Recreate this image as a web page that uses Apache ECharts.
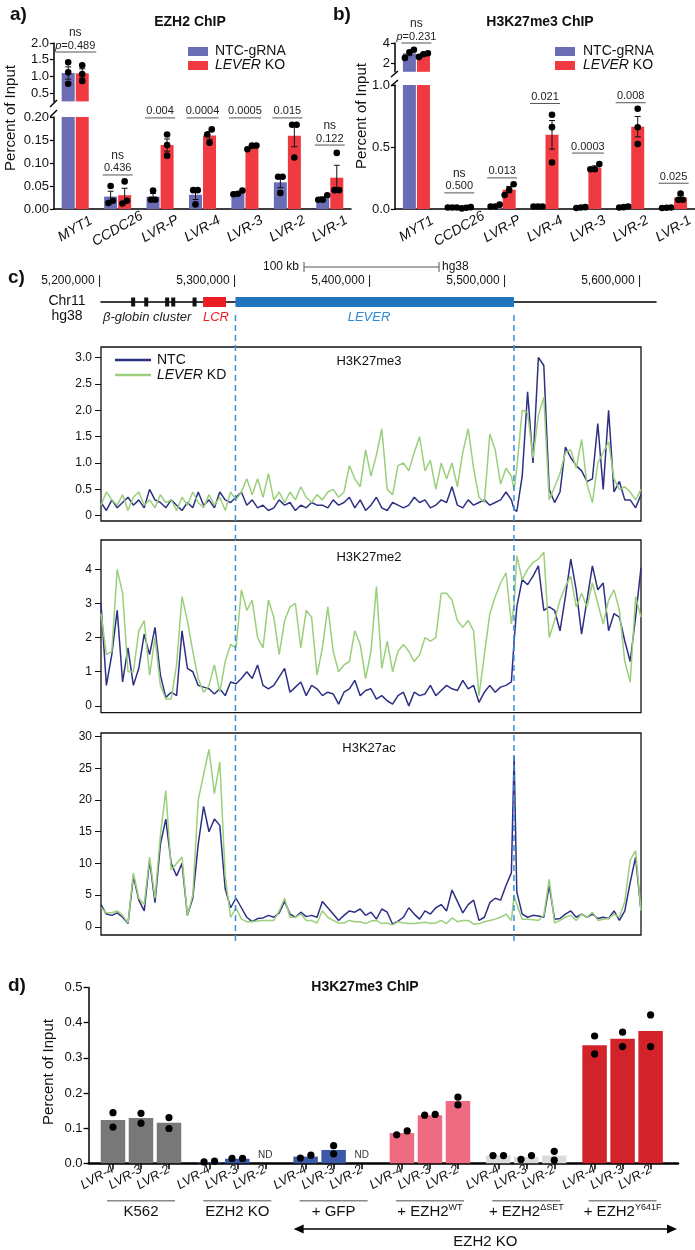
<!DOCTYPE html>
<html><head><meta charset="utf-8">
<script src="https://cdn.jsdelivr.net/npm/echarts@6/dist/echarts.min.js"></script>
<style>html,body{margin:0;padding:0;background:#fff}#c{width:695px;height:1250px}</style>
</head><body><div id="c"></div><script>
// ================= DATA =================
// Panels a & b (shared categories)
const abCategories = ['MYT1','CCDC26','LVR-P','LVR-4','LVR-3','LVR-2','LVR-1'];
// a) EZH2 ChIP
const aNtcMean = [1.10, 0.027, 0.027, 0.031, 0.035, 0.058, 0.023];
const aKoMean  = [1.09, 0.030, 0.139, 0.160, 0.135, 0.159, 0.068];
const aNtcReps = [[1.42,1.12,0.78],[0.050,0.018,0.013],[0.040,0.020,0.020],[0.041,0.041,0.010],[0.040,0.033,0.032],[0.070,0.070,0.035],[0.030,0.020,0.020]];
const aKoReps  = [[1.33,1.07,0.86],[0.060,0.012,0.018],[0.162,0.139,0.116],[0.173,0.162,0.144],[0.138,0.138,0.130],[0.183,0.183,0.112],[0.122,0.041,0.041]];
const aPValues = ['0.489','0.436','0.004','0.0004','0.0005','0.015','0.122'];
const aNs = [true,true,false,false,false,false,true];
const aUpperTicks = [0.5,1.0,1.5,2.0];
const aLowerTicks = [0,0.05,0.10,0.15,0.20];
// b) H3K27me3 ChIP
const bNtcMean = [3.00, 0.012, 0.025, 0.020, 0.012, 0.016, 0.010];
const bKoMean  = [2.85, 0.010, 0.156, 0.598, 0.334, 0.664, 0.092];
const bNtcReps = [[3.35,3.10,2.55],[0.012,0.012,0.012],[0.020,0.035,0.020],[0.020,0.020,0.020],[0.012,0.015,0.008],[0.020,0.015,0.012],[0.010,0.012,0.008]];
const bKoReps  = [[2.65,3.00,2.90],[0.015,0.005,0.010],[0.200,0.154,0.113],[0.760,0.660,0.375],[0.362,0.320,0.320],[0.808,0.659,0.524],[0.125,0.075,0.075]];
const bPValues = ['0.231','0.500','0.013','0.021','0.0003','0.008','0.025'];
const bNs = [true,true,false,false,false,false,false];
const bUpperTicks = [2,4];
const bLowerTicks = [0,0.5,1.0];

// c) genome tracks (kb, chr11 hg38)
const coordTicksKb = [5200,5300,5400,5500,5600];
const globinGenesKb = [[5222.3,5225.3],[5232,5235],[5247.5,5250.5],[5252,5255],[5267.8,5270.8]];
const lcrKb = [5275.6,5292.6];
const leverKb = [5299.6,5505.9];
const binKb = [5200,5204,5208,5212,5216,5220,5224,5228,5232,5236,
5240,5244,5248,5252,5256,5260,5264,5268,5272,5276,
5280,5284,5288,5292,5296,5300,5304,5308,5312,5316,
5320,5324,5328,5332,5336,5340,5344,5348,5352,5356,
5360,5364,5368,5372,5376,5380,5384,5388,5392,5396,
5400,5404,5408,5412,5416,5420,5424,5428,5432,5436,
5440,5444,5448,5452,5456,5460,5464,5468,5472,5476,
5480,5484,5488,5492,5496,5500,5504,5506,5508,5512,
5516,5520,5524,5528,5532,5536,5540,5544,5548,5552,
5556,5560,5564,5568,5572,5576,5580,5584,5588,5592,
5596,5600];
const me3Ntc = [0.25,0.1,0.3,0.15,0.25,0.35,0.2,0.3,0.15,0.5, 0.3,0.25,0.15,0.3,0.2,0.1,0.25,0.15,0.45,0.2, 0.3,0.15,0.45,0.3,0.25,0.35,
0.45,0.2,0.3,0.15,0.2,0.1,0.15,0.3,0.2,0.25, 0.1,0.2,0.15,0.25,0.2,0.2,0.15,0.3,0.2,0.25, 0.35,0.15,0.3,0.1,0.2,
0.35,0.15,0.1,0.25,0.2,0.15,0.2,0.35,0.25,0.3, 0.15,0.2,0.3,0.25,0.55,0.2,0.15,0.3,0.2,0.25, 0.3,0.2,0.25,0.3,0.45,
0.3,0.12,
0.08,0.75,2.35,1.0,3.0,2.85,0.5,0.25,0.45,1.3,1.1,0.95,0.85,0.65,0.7,1.75,0.5,2.0,0.45,0.65,0.3,0.3,0.15,0.4];
const me3Kd = [0.2,0.45,0.3,0.2,0.4,0.1,0.35,0.45,0.2,0.3, 0.15,0.4,0.25,0.3,0.1,0.35,0.2,0.45,0.25,0.15, 0.4,0.2,0.35,0.1,0.45,0.3,
0.45,0.7,0.4,0.7,0.35,0.8,0.3,0.45,0.25,0.45, 0.3,0.55,0.35,0.25,0.4,0.3,0.45,0.5,0.35,0.45, 0.95,0.7,0.55,1.25,0.75,
1.15,1.65,0.5,0.4,0.95,1.0,0.85,1.2,1.5,0.85, 1.05,0.5,1.0,0.7,1.0,0.55,1.2,1.65,0.9,0.35, 0.25,1.55,1.25,0.6,0.9,
0.75,0.5,
0.9,2.0,1.95,1.1,1.9,2.25,0.3,0.55,0.8,1.2,1.25,0.9,1.45,0.6,0.25,1.0,1.2,1.4,0.7,0.5,0.55,0.45,0.3,0.5];
const me2Ntc = [3.0,0.6,1.5,2.8,0.7,1.7,0.6,1.1,2.1,1.5, 2.3,0.9,0.25,0.4,0.3,2.2,1.1,1.0,0.6,0.55, 0.5,0.35,0.5,0.3,0.7,0.65,
0.8,1.0,0.8,1.2,0.6,0.5,0.6,0.85,1.1,0.4, 0.55,0.7,0.3,0.6,0.5,0.3,0.4,0.35,0.05,0.4, 0.5,0.75,0.3,0.45,0.5,
0.2,0.3,0.15,0.05,0.3,0.4,0.0,0.4,0.3,0.35, 0.6,0.3,0.45,0.6,0.5,0.45,0.75,0.5,0.6,0.1, 0.4,0.6,0.4,0.55,0.6,
0.7,1.9,
2.9,3.7,3.55,3.8,4.1,2.8,2.9,2.8,2.2,3.2,4.3,3.4,2.1,3.1,4.1,3.4,3.6,2.2,2.7,2.6,1.9,1.3,2.6,4.05];
const me2Kd = [2.7,1.5,1.6,4.0,3.3,1.0,1.0,2.2,2.5,0.9, 2.0,0.6,0.2,0.2,1.2,3.2,2.5,1.6,0.8,0.4, 0.6,1.2,0.4,1.3,1.8,1.7,
3.4,2.8,3.1,2.0,1.7,3.1,2.6,1.5,2.5,2.9, 3.0,1.7,2.8,2.6,0.9,1.7,2.9,1.6,1.0,1.2, 1.3,2.2,1.8,0.8,1.6,
3.5,1.1,1.9,1.0,1.6,1.8,1.6,1.3,1.5,2.0, 1.9,2.0,3.3,3.3,3.1,2.5,2.3,2.5,2.2,0.3, 1.5,2.7,3.2,3.6,3.9,
2.4,3.0,
4.4,3.7,4.0,4.2,4.3,4.5,2.0,2.5,3.1,3.5,3.8,2.9,3.3,2.9,3.6,3.0,2.4,3.1,3.4,2.8,1.3,0.7,3.2,2.6];
const acNtc = [3.5,2.0,1.8,2.2,1.5,0.5,8.0,4.2,2.5,10.5, 3.8,13.0,17.0,10.0,8.0,10.0,1.8,4.5,13.0,19.0, 15.0,17.0,16.0,6.0,3.0,4.5,
3.0,1.5,0.8,1.3,1.4,1.8,1.5,2.2,4.0,2.0, 1.5,2.3,1.6,1.8,1.5,4.0,3.0,2.0,1.0,1.8, 2.5,2.3,2.8,1.8,2.3,
1.2,2.8,2.3,0.4,0.9,1.5,3.0,2.0,1.2,2.5, 2.0,3.0,3.5,2.5,5.8,4.0,2.2,3.5,4.2,1.0, 1.5,3.8,4.5,4.2,6.5,
8.5,27.0,
5.5,2.0,1.5,1.8,1.7,1.5,6.5,1.2,1.3,2.0,2.5,1.5,2.0,1.5,2.0,1.3,1.5,1.3,2.5,1.0,2.5,7.0,11.0,2.5];
const acKd = [3.0,2.2,2.2,2.5,1.8,0.6,8.5,4.5,3.5,11.0, 4.5,14.5,21.5,9.0,10.0,11.0,1.8,5.0,20.0,24.0, 28.0,21.0,26.0,8.0,1.5,3.0,
1.2,0.8,0.8,0.9,1.0,1.0,1.0,2.5,4.5,1.5, 1.5,2.0,1.0,1.0,0.6,2.5,1.5,1.0,0.6,0.6, 1.0,0.8,0.8,0.5,0.9,
1.0,0.5,0.6,0.3,0.8,0.6,0.5,0.5,0.6,0.7, 0.5,0.6,1.0,0.5,1.4,0.8,1.0,1.0,0.4,0.5, 0.8,1.0,1.2,1.5,2.0,
1.0,5.0,
3.5,1.2,1.2,1.1,1.0,1.8,7.5,0.6,1.0,1.5,1.8,1.0,2.0,1.5,2.3,1.0,1.2,1.3,2.0,1.5,4.0,10.5,12.0,2.5];
const me3Ticks = [0,0.5,1,1.5,2,2.5,3];
const me2Ticks = [0,1,2,3,4];
const acTicks = [0,5,10,15,20,25,30];

// d) H3K27me3 ChIP, EZH2 rescue
const dGroupBase = ['K562','EZH2 KO','+ GFP','+ EZH2','+ EZH2','+ EZH2'];
const dGroupSup  = ['','','','WT','\u0394SET','Y641F'];
const dSites = ['LVR-4','LVR-3','LVR-2'];
const dMeans = [[0.123,0.129,0.115],[0.003,0.013,null],[0.019,0.038,null],[0.086,0.137,0.177],[0.022,0.018,0.022],[0.336,0.354,0.376]];
const dReps = [[[0.144,0.103],[0.142,0.114],[0.130,0.099]],[[0.004,0.006],[0.014,0.014],[]],[[0.015,0.023],[0.050,0.027],[]],
  [[0.081,0.092],[0.137,0.139],[0.188,0.166]],[[0.022,0.022],[0.011,0.022],[0.034,0.009]],[[0.362,0.311],[0.373,0.332],[0.422,0.332]]];
const dTicks = [0,0.1,0.2,0.3,0.4,0.5];

// ================= STYLE / LAYOUT =================
const FONT = '"Liberation Sans", Arial, Helvetica, sans-serif';
const BLUE = '#6a6db4', RED = '#ee3a40';
const NAVY = '#2e3084', GREEN = '#9bcf7c';
const dColors = ['#787878','#3c5aa8','#3c5aa8','#ef6b81','#dcdcdc','#d2232b'];
const D_PERIOD = 3.44;

const grids=[], xAxes=[], yAxes=[], series=[];
function addGrid(g){ grids.push(Object.assign({outerBoundsMode:'none', containLabel:false}, g)); return grids.length-1; }
function sem(a){ const n=a.length; if(n<2) return 0; const m=a.reduce((s,v)=>s+v,0)/n; return Math.sqrt(a.reduce((s,v)=>s+(v-m)*(v-m),0)/(n-1))/Math.sqrt(n); }
function jitter(vals, ppu, thresh, spacing){
  const idx = vals.map((v,i)=>i).sort((i,j)=>vals[i]-vals[j]);
  const out = new Array(vals.length).fill(0);
  if(!idx.length) return out;
  let cl=[idx[0]];
  const flush=()=>{ const n=cl.length; cl.forEach((ii,k)=>{ out[ii]=(k-(n-1)/2)*spacing; }); };
  for(let k=1;k<idx.length;k++){
    if((vals[idx[k]]-vals[idx[k-1]])*ppu < thresh) cl.push(idx[k]); else { flush(); cl=[idx[k]]; }
  }
  flush();
  return out;
}
function commas(n){ return String(Math.round(n)).replace(/\B(?=(\d{3})+(?!\d))/g, ','); }

function buildBarPanel(P){
  const gU = addGrid({left:P.left, top:P.upTop, width:P.width, height:P.upH});
  const gL = addGrid({left:P.left, top:P.loTop, width:P.width, height:P.loH});
  xAxes.push({gridIndex:gU, type:'category', data:abCategories, show:false}); const xU=xAxes.length-1;
  xAxes.push({gridIndex:gL, type:'category', data:abCategories,
    axisLine:{show:true, lineStyle:{color:'#000',width:1.5}}, axisTick:{show:false},
    axisLabel:{interval:0, hideOverlap:false, rotate:30, align:'center', verticalAlign:'middle', margin:20, fontStyle:'italic', fontSize:14, color:'#111', fontFamily:FONT}});
  const xL=xAxes.length-1;
  const yStyle=(ticks,fmt)=>({axisLine:{show:true, onZero:false, lineStyle:{color:'#000',width:1.5}}, axisTick:{show:true, length:4, customValues:ticks, lineStyle:{color:'#000',width:1.2}},
    axisLabel:{customValues:ticks, formatter:fmt, fontSize:13, color:'#111', fontFamily:FONT, margin:5}, splitLine:{show:false}});
  yAxes.push(Object.assign({gridIndex:gU, type:'value', min:P.upMin, max:P.upMax}, yStyle(P.upTicks, P.upFmt))); const yU=yAxes.length-1;
  yAxes.push(Object.assign({gridIndex:gL, type:'value', min:0, max:P.loMax}, yStyle(P.loTicks, P.loFmt))); const yL=yAxes.length-1;
  const pxU=P.upH/(P.upMax-P.upMin), pxL=P.loH/P.loMax;
  const means=[P.ntcMean,P.koMean], reps=[P.ntcReps,P.koReps], cols=[BLUE,RED], names=['NTC-gRNA','LEVER KO'];
  [0,1].forEach(w=>{
    series.push({type:'bar', name:names[w], xAxisIndex:xU, yAxisIndex:yU, barWidth:13, barGap:'8%', clip:true, silent:true, itemStyle:{color:cols[w]}, data:means[w].map(v=>v>=P.upMin?v:'-')});
  });
  [0,1].forEach(w=>{
    series.push({type:'bar', name:names[w], xAxisIndex:xL, yAxisIndex:yL, barWidth:13, barGap:'8%', clip:true, silent:true, itemStyle:{color:cols[w]}, data:means[w].slice()});
  });
  const offs=[-7,7];
  [[xU,yU,pxU,v=>v>=P.upMin],[xL,yL,pxL,v=>v<=P.loMax]].forEach(([xi,yi,ppu,inR])=>{
    const errs=[], dots=[];
    for(let c=0;c<abCategories.length;c++){
      for(const w of [0,1]){
        const m=means[w][c], r=reps[w][c];
        if(inR(m)) errs.push([c,0,w,m,sem(r)]);
        const vis=r.filter(inR); const jit=jitter(vis,ppu,6,4.5);
        vis.forEach((v,k)=>dots.push([c,1,w,v,jit[k]]));
      }
    }
    series.push({type:'custom', xAxisIndex:xi, yAxisIndex:yi, silent:true, z:5, data:errs.concat(dots), renderItem:(params,api)=>{
      const c=api.value(0), kind=api.value(1), w=api.value(2), v=api.value(3), e=api.value(4);
      if(kind===0){
        const t=api.coord([c,v+e]), b=api.coord([c,v-e]); const x=t[0]+offs[w];
        const st={stroke:'#111',lineWidth:1};
        return {type:'group', children:[
          {type:'line', shape:{x1:x,y1:t[1],x2:x,y2:b[1]}, style:st},
          {type:'line', shape:{x1:x-3,y1:t[1],x2:x+3,y2:t[1]}, style:st},
          {type:'line', shape:{x1:x-3,y1:b[1],x2:x+3,y2:b[1]}, style:st}]};
      }
      const p=api.coord([c,v]);
      return {type:'circle', shape:{cx:p[0]+offs[w]+e, cy:p[1], r:3.3}, style:{fill:'#000'}};
    }});
  });
  [[xU,yU,c=>P.sigLevel[c]>P.loMax],[xL,yL,c=>P.sigLevel[c]<=P.loMax]].forEach(([xi,yi,pick])=>{
    const data=abCategories.map((_,c)=>c).filter(pick).map(c=>[c,P.sigLevel[c],c]);
    series.push({type:'custom', xAxisIndex:xi, yAxisIndex:yi, silent:true, z:6, data, renderItem:(params,api)=>{
      const c=api.value(2); const p=api.coord([api.value(0),api.value(1)]); const hw=P.sigHalf[c];
      const kids=[{type:'line', shape:{x1:p[0]-hw,y1:p[1],x2:p[0]+hw,y2:p[1]}, style:{stroke:'#555',lineWidth:1}}];
      const txt = c===0 ? '{i|p}{n|='+P.pvals[c]+'}' : '{n|'+P.pvals[c]+'}';
      kids.push({type:'text', x:p[0], y:p[1]-6.5, style:{text:txt, align:'center', verticalAlign:'middle',
        rich:{i:{fontStyle:'italic',fontSize:11,fontFamily:FONT,fill:'#222'}, n:{fontSize:11,fontFamily:FONT,fill:'#222'}}}});
      if(P.ns[c]) kids.push({type:'text', x:p[0], y:p[1]-19.5, style:{text:'ns', fontSize:12, fontFamily:FONT, fill:'#222', align:'center', verticalAlign:'middle'}});
      return {type:'group', children:kids};
    }});
  });
}

buildBarPanel({left:54, width:297, upTop:43, upH:58.4, loTop:117, loH:92, upMin:0.25, upMax:2.0, loMax:0.2,
  upTicks:aUpperTicks, loTicks:aLowerTicks, upFmt:v=>v.toFixed(1), loFmt:v=>v.toFixed(2),
  ntcMean:aNtcMean, koMean:aKoMean, ntcReps:aNtcReps, koReps:aKoReps, pvals:aPValues, ns:aNs,
  sigLevel:[1.73,0.074,0.198,0.198,0.198,0.198,0.139], sigHalf:[21,15,15,16,16,15,15]});
buildBarPanel({left:395, width:300, upTop:43, upH:28.8, loTop:85, loH:124, upMin:1.2, upMax:4.0, loMax:1.0,
  upTicks:bUpperTicks, loTicks:bLowerTicks, upFmt:v=>String(v), loFmt:v=>v.toFixed(1),
  ntcMean:bNtcMean, koMean:bKoMean, ntcReps:bNtcReps, koReps:bKoReps, pvals:bPValues, ns:bNs,
  sigLevel:[4.0,0.13,0.251,0.851,0.451,0.857,0.208], sigHalf:[15,15,15,15,16,15,15]});

// ---- c) header
const gH = addGrid({left:101, top:270, width:555, height:32});
xAxes.push({gridIndex:gH, type:'value', min:5200, max:5611.1, axisLine:{show:true, onZero:false, lineStyle:{color:'#000',width:1.5}},
  axisTick:{show:false}, splitLine:{show:false},
  axisLabel:{inside:true, customValues:coordTicksKb, formatter:v=>commas(v*1000)+' |', align:'right', fontSize:12, color:'#111', fontFamily:FONT, margin:15}});
const xH = xAxes.length-1;
yAxes.push({gridIndex:gH, type:'value', min:0, max:1, show:false}); const yH=yAxes.length-1;
const featRows = globinGenesKb.map(g=>[g[0],g[1],0]).concat([[lcrKb[0],lcrKb[1],1],[leverKb[0],leverKb[1],2]]);
series.push({type:'custom', xAxisIndex:xH, yAxisIndex:yH, silent:true, z:5, data:featRows, renderItem:(params,api)=>{
  const s=api.coord([api.value(0),0]), e=api.coord([api.value(1),0]); const t=api.value(2);
  const h=[9,10,10][t], col=['#111','#ec1c24','#1f76bf'][t];
  return {type:'rect', shape:{x:s[0], y:s[1]-h/2, width:e[0]-s[0], height:h}, style:{fill:col}};
}});

// ---- c) tracks
const tracks = [
  {top:347, height:174, min:-0.1, max:3.2, ticks:me3Ticks, fmt:v=>v===0?'0':v.toFixed(1), ntc:me3Ntc, kd:me3Kd},
  {top:540, height:172.7, min:-0.2, max:4.86, ticks:me2Ticks, fmt:v=>String(v), ntc:me2Ntc, kd:me2Kd},
  {top:733, height:202, min:-1.3, max:30.58, ticks:acTicks, fmt:v=>String(v), ntc:acNtc, kd:acKd}
];
const trackX=[];
tracks.forEach(T=>{
  const g=addGrid({left:101, top:T.top, width:540, height:T.height, show:true, borderColor:'#111', borderWidth:1.3, backgroundColor:'transparent'});
  xAxes.push({gridIndex:g, type:'value', min:5200, max:5600, show:false}); const xi=xAxes.length-1; trackX.push(xi);
  yAxes.push({gridIndex:g, type:'value', min:T.min, max:T.max, axisLine:{show:false}, splitLine:{show:false},
    axisTick:{show:true, length:6, customValues:T.ticks, lineStyle:{color:'#111',width:1}},
    axisLabel:{customValues:T.ticks, formatter:T.fmt, fontSize:12, color:'#111', fontFamily:FONT, margin:9}});
  const yi=yAxes.length-1;
  series.push({type:'line', xAxisIndex:xi, yAxisIndex:yi, silent:true, symbol:'none', showSymbol:false, clip:true, z:3,
    lineStyle:{color:NAVY,width:1.5}, data:binKb.map((x,i)=>[x,T.ntc[i]])});
  series.push({type:'line', xAxisIndex:xi, yAxisIndex:yi, silent:true, symbol:'none', showSymbol:false, clip:true, z:4,
    lineStyle:{color:GREEN,width:1.5}, data:binKb.map((x,i)=>[x,T.kd[i]])});
});

// ---- d)
const gD = addGrid({left:88.6, top:987.5, width:589.4, height:175.8});
const dPos=[]; const dPosGroup=[]; const dPosSite=[];
for(let g=0; g<dGroupBase.length; g++) for(let b=0;b<3;b++){ dPos.push(g*D_PERIOD+b); dPosGroup.push(g); dPosSite.push(b); }
function nearestIdx(v){ let k=0; dPos.forEach((p,i)=>{ if(Math.abs(p-v)<Math.abs(dPos[k]-v)) k=i; }); return k; }
xAxes.push({gridIndex:gD, type:'value', min:-0.871, max:20.179, splitLine:{show:false},
  axisLine:{show:true, onZero:false, lineStyle:{color:'#000',width:2.5}},
  axisTick:{show:true, customValues:dPos, length:6, lineStyle:{color:'#000',width:1.5}},
  axisLabel:{customValues:dPos, formatter:v=>dSites[dPosSite[nearestIdx(v)]], rotate:30, fontStyle:'italic', fontSize:13, margin:5, color:'#111', fontFamily:FONT, hideOverlap:false}});
const xD=xAxes.length-1;
yAxes.push({gridIndex:gD, type:'value', min:0, max:0.5, splitLine:{show:false},
  axisLine:{show:true, onZero:false, lineStyle:{color:'#000',width:1.5}},
  axisTick:{show:true, length:5, customValues:dTicks, lineStyle:{color:'#000',width:1.3}},
  axisLabel:{customValues:dTicks, formatter:v=>v.toFixed(1), fontSize:13, color:'#111', fontFamily:FONT, margin:6}});
const yD=yAxes.length-1;
const dBarData=[], dDots=[], dND=[];
const ppuD = 175.8/0.5;
dPos.forEach((x,k)=>{
  const g=dPosGroup[k], b=dPosSite[k]; const m=dMeans[g][b];
  if(m===null){ dND.push([x,0]); return; }
  dBarData.push({value:[x,m], itemStyle:{color:dColors[g]}});
  const r=dReps[g][b]; const jit=jitter(r,ppuD,7,10.5);
  r.forEach((v,i)=>dDots.push([x,v,jit[i]]));
});
series.push({type:'bar', xAxisIndex:xD, yAxisIndex:yD, barWidth:24.5, silent:true, data:dBarData});
series.push({type:'custom', xAxisIndex:xD, yAxisIndex:yD, silent:true, z:5, data:dDots, renderItem:(params,api)=>{
  const p=api.coord([api.value(0),api.value(1)]);
  return {type:'circle', shape:{cx:p[0]+api.value(2), cy:p[1], r:3.6}, style:{fill:'#000'}};
}});
series.push({type:'custom', xAxisIndex:xD, yAxisIndex:yD, silent:true, z:5, data:dND, renderItem:(params,api)=>{
  const p=api.coord([api.value(0),0]);
  return {type:'text', x:p[0], y:p[1]-8, style:{text:'ND', fontSize:10, fontFamily:FONT, fill:'#333', align:'center', verticalAlign:'middle'}};
}});
series.push({type:'custom', xAxisIndex:xD, yAxisIndex:yD, silent:true, z:5, data:dGroupBase.map((_,g)=>[g*D_PERIOD, 0, g]), renderItem:(params,api)=>{
  const g=api.value(2); const a=api.coord([api.value(0),0]), b=api.coord([api.value(0)+2,0]);
  const y0=a[1]; const cx=(a[0]+b[0])/2;
  const txt = dGroupSup[g] ? '{b|'+dGroupBase[g]+'}{s|'+dGroupSup[g]+'}' : '{b|'+dGroupBase[g]+'}';
  return {type:'group', children:[
    {type:'line', shape:{x1:a[0]-6,y1:y0+37.5,x2:b[0]+6,y2:y0+37.5}, style:{stroke:'#888',lineWidth:1.5}},
    {type:'text', x:cx, y:y0+49, style:{text:txt, align:'center', verticalAlign:'middle',
      rich:{b:{fontSize:15,fontFamily:FONT,fill:'#111',lineHeight:18}, s:{fontSize:9,fontFamily:FONT,fill:'#111',verticalAlign:'top',lineHeight:18}}}}
  ]};
}});

// ================= OPTION =================
const chart = echarts.init(document.getElementById('c'), null, {renderer:'canvas', width:695, height:1250});
chart.setOption({animation:false, backgroundColor:'#fff', textStyle:{fontFamily:FONT},
  grid:grids, xAxis:xAxes, yAxis:yAxes, series:series});

// ================= ANNOTATIONS =================
function T(x,y,text,o){ o=o||{}; return {type:'text', x:x, y:y, rotation:o.rot||0, z:100,
  style:Object.assign({text:text, fontSize:o.size||13, fontFamily:FONT, fontWeight:o.bold?'bold':'normal', fontStyle:o.italic?'italic':'normal',
  fill:o.color||'#111', align:o.align||'left', verticalAlign:'middle', textAlign:o.align||'left', textVerticalAlign:'middle'}, o.rich?{rich:o.rich}:{})}; }
function Ln(x1,y1,x2,y2,col,w,dash){ return {type:'line', z:100, shape:{x1,y1,x2,y2}, style:{stroke:col||'#000', lineWidth:w||1, lineDash:dash||null}}; }
function Rc(x,y,w,h,col){ return {type:'rect', z:100, shape:{x,y,width:w,height:h}, style:{fill:col}}; }
const richLever = (sz)=>({i:{fontStyle:'italic',fontSize:sz,fontFamily:FONT,fill:'#111'}, n:{fontSize:sz,fontFamily:FONT,fill:'#111'}});
const G=[];
// panel a
G.push(T(10,15,'a)',{size:19,bold:true}));
G.push(T(190,22,'EZH2 ChIP',{size:14,bold:true,align:'center'}));
G.push(Rc(188,47,20,9,BLUE)); G.push(T(215,51.5,'NTC-gRNA',{size:14}));
G.push(Rc(188,61,20,9,RED)); G.push(T(215,65.5,'{i|LEVER}{n| KO}',{rich:richLever(14)}));
G.push(T(11,118,'Percent of Input',{size:15,align:'center',rot:Math.PI/2}));
G.push(Ln(50,107,57,100,'#000',1.4)); G.push(Ln(50,117,57,110,'#000',1.4));
// panel b
G.push(T(333,15,'b)',{size:19,bold:true}));
G.push(T(540,22,'H3K27me3 ChIP',{size:14,bold:true,align:'center'}));
G.push(Rc(555,47,20,9,BLUE)); G.push(T(583,51.5,'NTC-gRNA',{size:14}));
G.push(Rc(555,61,20,9,RED)); G.push(T(583,65.5,'{i|LEVER}{n| KO}',{rich:richLever(14)}));
G.push(T(362,116,'Percent of Input',{size:15,align:'center',rot:Math.PI/2}));
G.push(Ln(391,77,398,71,'#000',1.4)); G.push(Ln(391,86,398,80,'#000',1.4));
// panel c
G.push(T(8,278,'c)',{size:19,bold:true}));
const px0=chart.convertToPixel({xAxisIndex:xH},5200), px1=chart.convertToPixel({xAxisIndex:xH},5300);
const sbL=304, sbR=sbL+(px1-px0), sbY=267;
G.push(T(299,sbY,'100 kb',{size:12,align:'right'}));
G.push(Ln(sbL,sbY,sbR,sbY,'#555',1)); G.push(Ln(sbL,sbY-5,sbL,sbY+5,'#555',1)); G.push(Ln(sbR,sbY-5,sbR,sbY+5,'#555',1));
G.push(T(sbR+3,sbY,'hg38',{size:12}));
G.push(T(67,301,'Chr11',{size:14,align:'center'}));
G.push(T(67,316,'hg38',{size:14,align:'center'}));
G.push(T(103,317,'\u03b2-globin cluster',{size:13,italic:true,color:'#222'}));
G.push(T(203,317,'LCR',{size:13,italic:true,color:'#ec1c24'}));
G.push(T(369,317,'LEVER',{size:13,italic:true,color:'#2b8bd8',align:'center'}));
G.push(T(369,361,'H3K27me3',{size:13,align:'center'}));
G.push(T(369,557,'H3K27me2',{size:13,align:'center'}));
G.push(T(369,748,'H3K27ac',{size:13,align:'center'}));
G.push(Ln(115,360,151,360,NAVY,2.5)); G.push(T(157,360,'NTC',{size:14}));
G.push(Ln(115,375,151,375,GREEN,2.5)); G.push(T(157,375,'{i|LEVER}{n| KD}',{rich:richLever(14)}));
leverKb.forEach(k=>{ const x=chart.convertToPixel({xAxisIndex:trackX[0]},k); G.push(Ln(x,315,x,943,'#3a8fd9',1.5,[6,4])); });
// panel d
G.push(T(8,986,'d)',{size:19,bold:true}));
G.push(T(365,987,'H3K27me3 ChIP',{size:14,bold:true,align:'center'}));
G.push(T(49,1072,'Percent of Input',{size:15,align:'center',rot:Math.PI/2}));
const arY=1229, arL=chart.convertToPixel({xAxisIndex:xD},2*D_PERIOD)-12, arR=677;
G.push(Ln(arL+6,arY,arR-6,arY,'#000',1.5));
G.push({type:'polygon', z:100, shape:{points:[[arL,arY],[arL+10,arY-4.5],[arL+10,arY+4.5]]}, style:{fill:'#000'}});
G.push({type:'polygon', z:100, shape:{points:[[arR,arY],[arR-10,arY-4.5],[arR-10,arY+4.5]]}, style:{fill:'#000'}});
G.push(T((arL+arR)/2,1242,'EZH2 KO',{size:15,align:'center'}));
chart.setOption({graphic:{elements:G}});
</script></body></html>
